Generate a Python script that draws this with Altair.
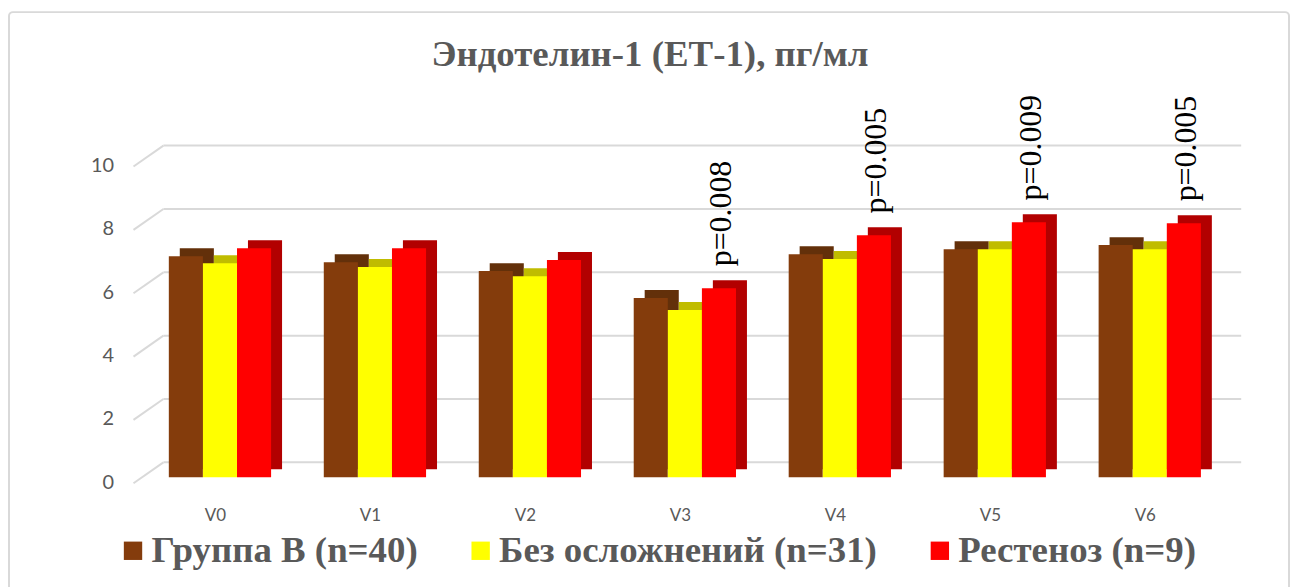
import altair as alt
import pandas as pd

# ---- data ----
visits = ["V0", "V1", "V2", "V3", "V4", "V5", "V6"]
series_names = ["Группа В (n=40)", "Без осложнений (n=31)", "Рестеноз (n=9)"]
group_b = [6.98, 6.79, 6.51, 5.66, 7.04, 7.20, 7.33]
no_complications = [6.76, 6.64, 6.35, 5.28, 6.89, 7.20, 7.20]
restenosis = [7.23, 7.23, 6.86, 5.97, 7.64, 8.05, 8.02]
p_labels = ["", "", "", "p=0.008", "p=0.005", "p=0.009", "p=0.005"]
grid_values = [0, 2, 4, 6, 8, 10]

front_colors = ["#843c0c", "#ffff00", "#ff0000"]
dark_colors = ["#63300a", "#c0bc00", "#b20000"]

values_by_series = [group_b, no_complications, restenosis]
rows = []
for i, v in enumerate(visits):
    for k, s in enumerate(series_names):
        rows.append({"visit": v, "idx": i, "k": k, "series": s,
                     "value": values_by_series[k][i],
                     "p": p_labels[i] if k == 2 else ""})
df = pd.DataFrame(rows)
grid_df = pd.DataFrame({"g": grid_values})

W, H = 1089, 318
BW = 0.22  # bar width in category units

label_expr = "[" + ",".join(f"'{v}'" for v in visits) + "][datum.value]"

base = alt.Chart(df).transform_calculate(
    x0=f"datum.idx - {1.5 * BW} + datum.k * {BW}",
    x1=f"datum.idx - {0.5 * BW} + datum.k * {BW}",
    xc=f"datum.idx + (datum.k - 1) * {BW}",
    shade="datum.series + ' (3D)'",
)

xscale = alt.Scale(domain=[-0.5, 6.5], nice=False, zero=False)
yscale = alt.Scale(domain=[0, 10], nice=False)

x_axis = alt.Axis(values=list(range(len(visits))), labelExpr=label_expr, title=None,
                  domain=False, ticks=False, grid=False, labelFont="Lato",
                  labelFontSize=17, labelColor="#595959", labelPadding=30, zindex=2)
y_axis = alt.Axis(values=grid_values, title=None, domain=False, ticks=False, grid=False,
                  labelFont="Lato", labelFontSize=20, labelColor="#595959",
                  labelPadding=24, labelOffset=5, zindex=2)

frame = alt.Chart(pd.DataFrame({"a": [0]})).mark_rect(
    filled=False, stroke="#d9d9d9", strokeWidth=2, cornerRadius=4
).encode(x=alt.value(-129), x2=alt.value(1156), y=alt.value(-149), y2=alt.value(432))

grid_back = alt.Chart(grid_df).mark_rule(color="#d9d9d9", strokeWidth=2, yOffset=-15, y2Offset=-15).encode(
    y=alt.Y("g:Q", scale=yscale, axis=y_axis),
    y2="g:Q",
    x=alt.value(26), x2=alt.value(1108),
)
grid_diag = alt.Chart(grid_df).mark_rule(color="#d9d9d9", strokeWidth=2, yOffset=6, y2Offset=-15).encode(
    y=alt.Y("g:Q", scale=yscale),
    y2="g:Q",
    x=alt.value(-4), x2=alt.value(26),
)

dark = base.mark_bar(xOffset=16, x2Offset=16, yOffset=-8, y2Offset=-8).encode(
    x=alt.X("x0:Q", scale=xscale, axis=x_axis),
    x2="x1:Q",
    y=alt.Y("value:Q", scale=yscale),
    y2=alt.Y2(datum=0),
    fill=alt.Fill("shade:N", scale=alt.Scale(domain=[s + " (3D)" for s in series_names],
                                             range=dark_colors), legend=None),
)

front = base.mark_bar(xOffset=5, x2Offset=5).encode(
    x=alt.X("x0:Q", scale=xscale),
    x2="x1:Q",
    y=alt.Y("value:Q", scale=yscale),
    y2=alt.Y2(datum=0),
    color=alt.Color("series:N", scale=alt.Scale(domain=series_names, range=front_colors),
                    legend=alt.Legend(title=None, orient="none", legendX=-23, legendY=373,
                                      direction="horizontal", columns=3,
                                      symbolType="square", symbolSize=340, symbolStrokeWidth=0,
                                      labelFont="Liberation Serif", labelFontWeight="bold",
                                      labelFontSize=37, labelColor="#595959",
                                      labelOffset=0, columnPadding=44, padding=0,
                                      labelLimit=600, zindex=2)),
)

ptext = base.transform_filter("datum.p != ''").mark_text(
    angle=270, align="left", baseline="middle", dx=22, xOffset=7,
    font="Liberation Serif", fontSize=32, color="black"
).encode(
    x=alt.X("xc:Q", scale=xscale),
    y=alt.Y("value:Q", scale=yscale),
    text="p:N",
)

chart = alt.layer(frame, grid_back, grid_diag, dark, front, ptext).properties(
    width=W, height=H,
    padding={"left": 0, "top": 2, "right": 0, "bottom": 0},
    title=alt.TitleParams("Эндотелин-1 (ЕТ-1), пг/мл", font="Liberation Serif", fontSize=37,
                          fontWeight="bold", color="#595959", frame="group", anchor="middle",
                          offset=-63, dx=-30),
).configure_view(strokeWidth=0)

chart.save("out.html", embed_options={"renderer": "svg", "actions": False})
